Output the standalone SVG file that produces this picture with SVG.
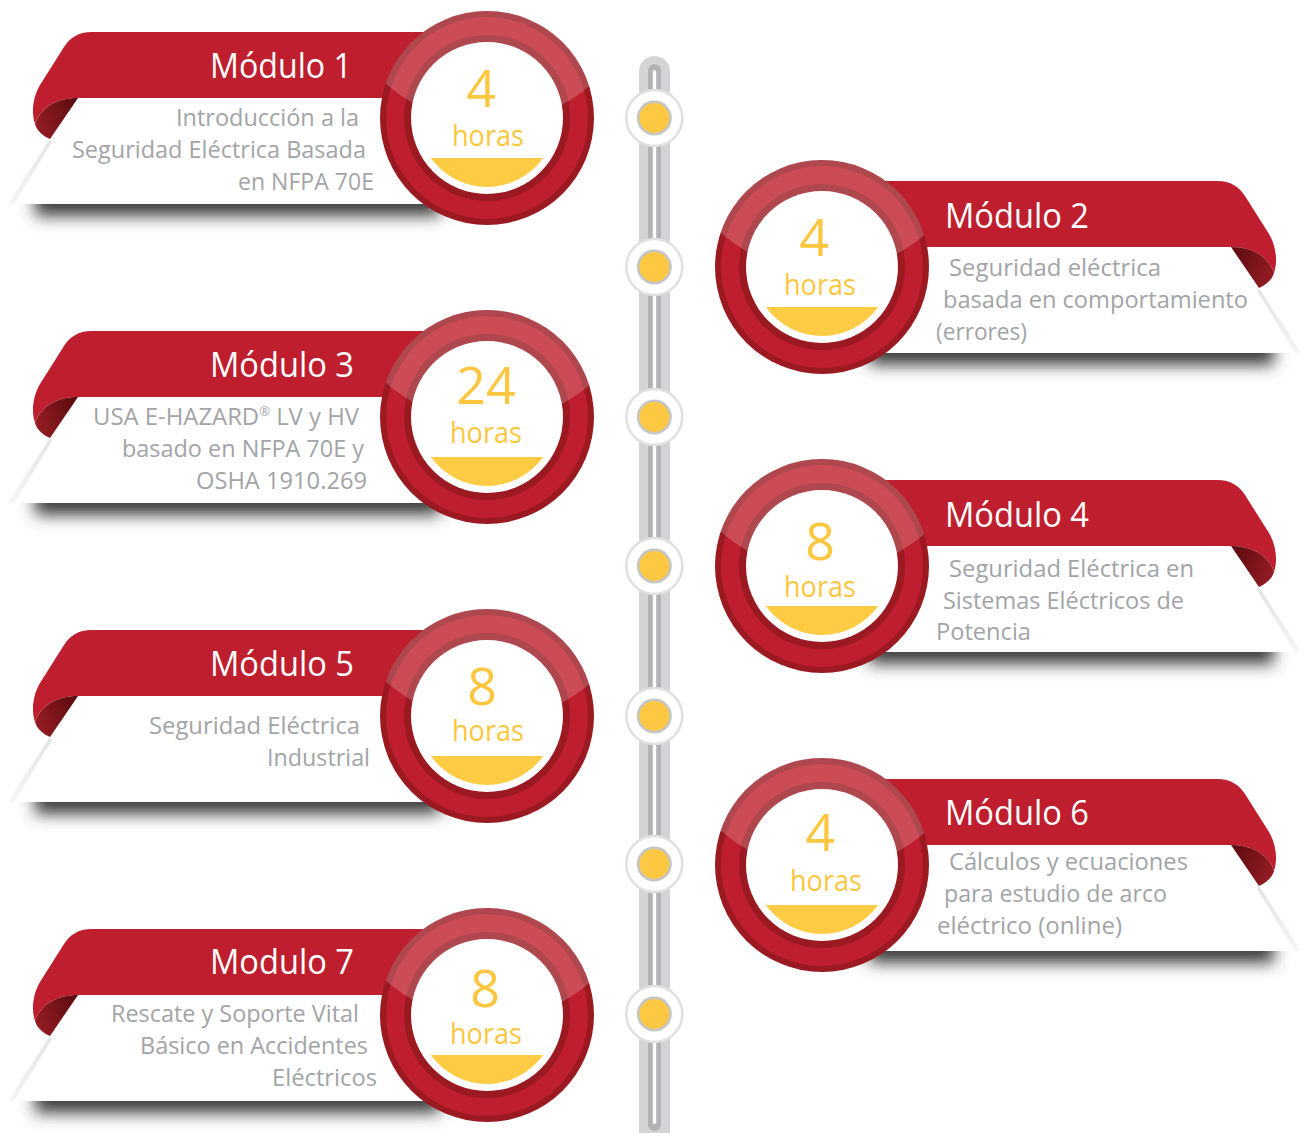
<svg xmlns="http://www.w3.org/2000/svg" xmlns:xlink="http://www.w3.org/1999/xlink" width="1307" height="1133" viewBox="0 0 1307 1133">
<style>
.t{font-family:'Open Sans','Noto Sans','DejaVu Sans',sans-serif}
.title{font-size:34px;fill:#ffffff}
.desc{font-size:24px;fill:#a2a4a7}
.num{font-size:52px;fill:#fcc63f;text-anchor:middle}
.hrs{font-size:30px;fill:#fcc63f}
</style>
<defs>
<filter id="sh" x="-10%" y="-100%" width="120%" height="300%"><feGaussianBlur stdDeviation="8"/></filter>
<linearGradient id="curl" gradientUnits="userSpaceOnUse" x1="36" y1="120" x2="76" y2="108"><stop offset="0" stop-color="#931b23"/><stop offset="1" stop-color="#5e0c11"/></linearGradient>
<linearGradient id="edge" gradientUnits="userSpaceOnUse" x1="50" y1="139" x2="8" y2="204"><stop offset="0" stop-color="#e4e4e4"/><stop offset="1" stop-color="#f6f6f6"/></linearGradient>
<clipPath id="ringClip"><circle r="107"/></clipPath>
<g id="ribbon">
<rect x="35" y="184" width="405" height="32" fill="#3e3e3e" filter="url(#sh)"/>
<path d="M78,98 L440,98 L440,204 L8,204 Z" fill="#ffffff"/>
<path d="M50,139 L8,204 L14,204 L52,142 Z" fill="url(#edge)"/>
<path d="M440,32 L92,32 C78,32 70,38 64,47 L40,85 C33,97 31,112 35,124 C40,108 56,98 78,98 L440,98 Z" fill="#be1e2d"/>
<path d="M78,98 L50,139 C43,136 37,131 35,124 C40,108 56,98 78,98 Z" fill="url(#curl)"/>
</g>
<g id="badge">
<circle r="107" fill="#9b1a22"/>
<circle r="101" fill="#be1e2d"/>
<circle r="83" fill="#9b1a22"/>
<circle cx="2" cy="-150" r="155" fill="#ffffff" fill-opacity="0.2" clip-path="url(#ringClip)"/>
<circle r="76" fill="#ffffff"/>
<path d="M-56.2,40 A69,69 0 0 0 56.2,40 Z" fill="#fecb45"/>
</g>
<g id="dot">
<circle r="28" fill="#ffffff" stroke="#dfe0e1" stroke-width="2.5"/>
<circle r="17.5" fill="#c3c5c7"/>
<circle r="15" fill="#fec843"/>
</g>
</defs>
<rect width="1307" height="1133" fill="#ffffff"/>

<g id="timeline">
<rect x="639" y="56" width="31" height="1110" rx="15.5" fill="#d3d4d5"/>
<rect x="648" y="64" width="13" height="1067" rx="6.5" fill="#b1b3b6"/>
<rect x="652.8" y="70" width="3.4" height="1054" rx="1.7" fill="#ffffff"/>
<use xlink:href="#dot" href="#dot" x="654.3" y="118"/>
<use xlink:href="#dot" href="#dot" x="654.3" y="267"/>
<use xlink:href="#dot" href="#dot" x="654.3" y="417"/>
<use xlink:href="#dot" href="#dot" x="654.3" y="566"/>
<use xlink:href="#dot" href="#dot" x="654.3" y="716"/>
<use xlink:href="#dot" href="#dot" x="654.3" y="864"/>
<use xlink:href="#dot" href="#dot" x="654.3" y="1014"/>
</g>

<g id="connectors"></g>

<g id="modulo1" class="t">
<use xlink:href="#ribbon" href="#ribbon"/>
<text class="title" x="210" y="78" textLength="142" lengthAdjust="spacingAndGlyphs">Módulo 1</text>
<text class="desc" x="176" y="126" textLength="183" lengthAdjust="spacingAndGlyphs">Introducción a la</text>
<text class="desc" x="72" y="158" textLength="294" lengthAdjust="spacingAndGlyphs">Seguridad Eléctrica Basada</text>
<text class="desc" x="238" y="190" textLength="136" lengthAdjust="spacingAndGlyphs">en NFPA 70E</text>
<use xlink:href="#badge" href="#badge" x="487" y="118"/>
<text class="num" x="481" y="107">4</text>
<text class="hrs" x="452" y="146" textLength="72" lengthAdjust="spacingAndGlyphs">horas</text>
</g>

<g id="modulo2" class="t">
<use xlink:href="#ribbon" href="#ribbon" transform="translate(1309,149) scale(-1,1)"/>
<text class="title" x="945" y="228" textLength="144" lengthAdjust="spacingAndGlyphs">Módulo 2</text>
<text class="desc" x="949" y="276" textLength="212" lengthAdjust="spacingAndGlyphs">Seguridad eléctrica</text>
<text class="desc" x="943" y="308" textLength="305" lengthAdjust="spacingAndGlyphs">basada en comportamiento</text>
<text class="desc" x="936" y="340" textLength="91" lengthAdjust="spacingAndGlyphs">(errores)</text>
<use xlink:href="#badge" href="#badge" x="822" y="267"/>
<text class="num" x="814" y="256">4</text>
<text class="hrs" x="784" y="295" textLength="72" lengthAdjust="spacingAndGlyphs">horas</text>
</g>

<g id="modulo3" class="t">
<use xlink:href="#ribbon" href="#ribbon" transform="translate(0,299)"/>
<text class="title" x="210" y="377" textLength="144" lengthAdjust="spacingAndGlyphs">Módulo 3</text>
<text class="desc" x="93" y="425" textLength="266" lengthAdjust="spacingAndGlyphs">USA E-HAZARD<tspan font-size="13" dy="-9">®</tspan><tspan dy="9"> LV y HV</tspan></text>
<text class="desc" x="122" y="457" textLength="242" lengthAdjust="spacingAndGlyphs">basado en NFPA 70E y</text>
<text class="desc" x="196" y="489" textLength="171" lengthAdjust="spacingAndGlyphs">OSHA 1910.269</text>
<use xlink:href="#badge" href="#badge" x="487" y="417"/>
<text class="num" x="486" y="404">24</text>
<text class="hrs" x="450" y="443" textLength="72" lengthAdjust="spacingAndGlyphs">horas</text>
</g>

<g id="modulo4" class="t">
<use xlink:href="#ribbon" href="#ribbon" transform="translate(1309,448) scale(-1,1)"/>
<text class="title" x="945" y="527" textLength="144" lengthAdjust="spacingAndGlyphs">Módulo 4</text>
<text class="desc" x="949" y="577" textLength="245" lengthAdjust="spacingAndGlyphs">Seguridad Eléctrica en</text>
<text class="desc" x="943" y="609" textLength="241" lengthAdjust="spacingAndGlyphs">Sistemas Eléctricos de</text>
<text class="desc" x="936" y="640" textLength="95" lengthAdjust="spacingAndGlyphs">Potencia</text>
<use xlink:href="#badge" href="#badge" x="822" y="566"/>
<text class="num" x="820" y="560">8</text>
<text class="hrs" x="784" y="597" textLength="72" lengthAdjust="spacingAndGlyphs">horas</text>
</g>

<g id="modulo5" class="t">
<use xlink:href="#ribbon" href="#ribbon" transform="translate(0,598)"/>
<text class="title" x="210" y="676" textLength="144" lengthAdjust="spacingAndGlyphs">Módulo 5</text>
<text class="desc" x="149" y="734" textLength="211" lengthAdjust="spacingAndGlyphs">Seguridad Eléctrica</text>
<text class="desc" x="267" y="766" textLength="103" lengthAdjust="spacingAndGlyphs">Industrial</text>
<use xlink:href="#badge" href="#badge" x="487" y="716"/>
<text class="num" x="482" y="705">8</text>
<text class="hrs" x="452" y="741" textLength="72" lengthAdjust="spacingAndGlyphs">horas</text>
</g>

<g id="modulo6" class="t">
<use xlink:href="#ribbon" href="#ribbon" transform="translate(1309,747) scale(-1,1)"/>
<text class="title" x="945" y="825" textLength="144" lengthAdjust="spacingAndGlyphs">Módulo 6</text>
<text class="desc" x="949" y="870" textLength="239" lengthAdjust="spacingAndGlyphs">Cálculos y ecuaciones</text>
<text class="desc" x="944" y="902" textLength="223" lengthAdjust="spacingAndGlyphs">para estudio de arco</text>
<text class="desc" x="937" y="934" textLength="185" lengthAdjust="spacingAndGlyphs">eléctrico (online)</text>
<use xlink:href="#badge" href="#badge" x="822" y="865"/>
<text class="num" x="820" y="851">4</text>
<text class="hrs" x="790" y="891" textLength="72" lengthAdjust="spacingAndGlyphs">horas</text>
</g>

<g id="modulo7" class="t">
<use xlink:href="#ribbon" href="#ribbon" transform="translate(0,897)"/>
<text class="title" x="210" y="974" textLength="144" lengthAdjust="spacingAndGlyphs">Modulo 7</text>
<text class="desc" x="111" y="1022" textLength="248" lengthAdjust="spacingAndGlyphs">Rescate y Soporte Vital</text>
<text class="desc" x="140" y="1054" textLength="228" lengthAdjust="spacingAndGlyphs">Básico en Accidentes</text>
<text class="desc" x="272" y="1086" textLength="105" lengthAdjust="spacingAndGlyphs">Eléctricos</text>
<use xlink:href="#badge" href="#badge" x="487" y="1015"/>
<text class="num" x="485" y="1007">8</text>
<text class="hrs" x="450" y="1044" textLength="72" lengthAdjust="spacingAndGlyphs">horas</text>
</g>
</svg>
